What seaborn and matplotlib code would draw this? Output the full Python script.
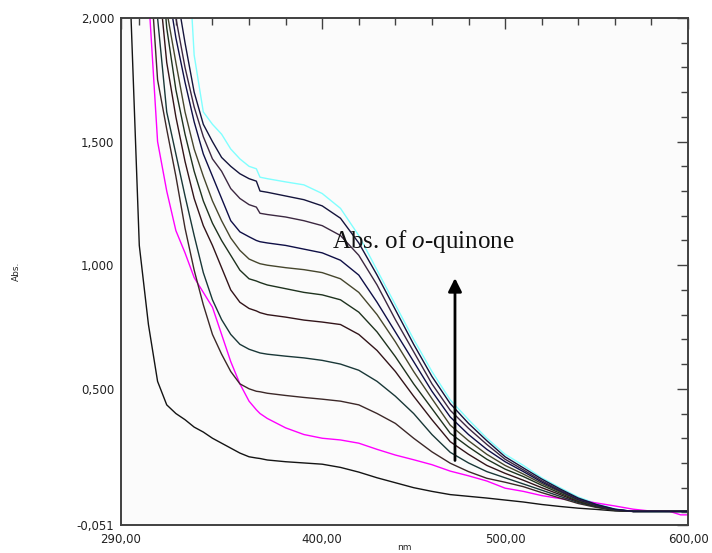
import numpy as np
import pandas as pd
import matplotlib
matplotlib.use("Agg")
import matplotlib.pyplot as plt
import seaborn as sns

# ---------------- data ----------------
wavelength = [295, 300, 305, 310, 315, 320, 325, 330, 335, 340, 345, 350, 355, 360, 364, 366,
              370, 380, 390, 400, 410, 420, 430, 440, 450, 460, 470, 480, 490, 500, 510, 520,
              530, 540, 550, 560, 570, 580, 590, 596, 600]

abs_t0 = [2.10, 1.08, 0.76, 0.53, 0.435, 0.40, 0.375, 0.345, 0.325, 0.30, 0.28, 0.26, 0.24, 0.225,
          0.22, 0.218, 0.212, 0.205, 0.20, 0.195, 0.182, 0.163, 0.14, 0.12, 0.10, 0.085, 0.072,
          0.065, 0.058, 0.05, 0.042, 0.032, 0.024, 0.017, 0.012, 0.006, 0.004, 0.004, 0.004,
          0.004, 0.004]
abs_t1 = [4.0, 3.0, 2.10, 1.50, 1.30, 1.14, 1.05, 0.95, 0.89, 0.83, 0.72, 0.61, 0.52, 0.45, 0.415,
          0.40, 0.38, 0.342, 0.315, 0.30, 0.293, 0.28, 0.255, 0.232, 0.213, 0.193, 0.167, 0.148,
          0.127, 0.098, 0.085, 0.068, 0.056, 0.05, 0.038, 0.026, 0.013, 0.005, 0.004, -0.01, -0.01]
abs_t2 = [4.6, 3.3, 2.30, 1.75, 1.55, 1.36, 1.15, 0.98, 0.84, 0.72, 0.64, 0.57, 0.52, 0.50, 0.49,
          0.488, 0.482, 0.473, 0.465, 0.458, 0.45, 0.435, 0.40, 0.36, 0.30, 0.245, 0.199, 0.165,
          0.138, 0.122, 0.104, 0.08, 0.058, 0.036, 0.02, 0.008, 0.004, 0.004, 0.004, 0.004, 0.004]
abs_t3 = [4.8, 3.6, 2.6, 2.00, 1.62, 1.45, 1.28, 1.12, 0.97, 0.86, 0.78, 0.72, 0.68, 0.66, 0.65,
          0.645, 0.64, 0.632, 0.625, 0.615, 0.60, 0.575, 0.53, 0.47, 0.40, 0.315, 0.243, 0.20,
          0.165, 0.14, 0.115, 0.09, 0.065, 0.04, 0.022, 0.008, 0.004, 0.004, 0.004, 0.004, 0.004]
abs_t4 = [5.0, 3.9, 2.9, 2.20, 1.82, 1.60, 1.42, 1.27, 1.16, 1.08, 0.99, 0.90, 0.85, 0.825, 0.815,
          0.808, 0.80, 0.79, 0.778, 0.77, 0.76, 0.72, 0.655, 0.57, 0.47, 0.375, 0.286, 0.235,
          0.19, 0.158, 0.13, 0.10, 0.072, 0.044, 0.024, 0.009, 0.004, 0.004, 0.004, 0.004, 0.004]
abs_t5 = [5.0, 4.1, 3.2, 2.40, 1.96, 1.71, 1.53, 1.38, 1.26, 1.17, 1.10, 1.04, 0.98, 0.945, 0.936,
          0.93, 0.92, 0.905, 0.89, 0.88, 0.86, 0.81, 0.73, 0.63, 0.52, 0.42, 0.32, 0.265, 0.215,
          0.175, 0.145, 0.11, 0.078, 0.047, 0.025, 0.01, 0.004, 0.004, 0.004, 0.004, 0.004]
abs_t6 = [5.2, 4.3, 3.4, 2.60, 2.03, 1.82, 1.62, 1.47, 1.36, 1.26, 1.18, 1.11, 1.06, 1.025, 1.012,
          1.006, 1.0, 0.99, 0.982, 0.97, 0.945, 0.89, 0.80, 0.69, 0.57, 0.46, 0.353, 0.29, 0.235,
          0.19, 0.155, 0.117, 0.083, 0.05, 0.027, 0.01, 0.004, 0.004, 0.004, 0.004, 0.004]
abs_t7 = [5.3, 4.5, 3.6, 2.80, 2.15, 1.92, 1.74, 1.58, 1.45, 1.36, 1.27, 1.18, 1.135, 1.115, 1.10,
          1.095, 1.09, 1.08, 1.065, 1.05, 1.02, 0.96, 0.85, 0.73, 0.61, 0.49, 0.386, 0.315, 0.255,
          0.205, 0.165, 0.123, 0.087, 0.052, 0.028, 0.011, 0.004, 0.004, 0.004, 0.004, 0.004]
abs_t8 = [5.4, 4.7, 3.9, 3.00, 2.40, 2.00, 1.80, 1.64, 1.52, 1.43, 1.38, 1.31, 1.27, 1.245, 1.235,
          1.21, 1.205, 1.195, 1.18, 1.16, 1.12, 1.04, 0.92, 0.78, 0.65, 0.52, 0.413, 0.34, 0.275,
          0.215, 0.172, 0.128, 0.09, 0.055, 0.03, 0.012, 0.004, 0.004, 0.004, 0.004, 0.004]
abs_t9 = [5.5, 5.0, 4.2, 3.20, 2.60, 2.12, 1.90, 1.70, 1.57, 1.50, 1.436, 1.40, 1.37, 1.35, 1.34,
          1.30, 1.295, 1.28, 1.265, 1.24, 1.19, 1.09, 0.96, 0.82, 0.68, 0.55, 0.44, 0.36, 0.29,
          0.225, 0.18, 0.135, 0.095, 0.058, 0.032, 0.013, 0.004, 0.004, 0.004, 0.004, 0.004]
abs_t10 = [6.0, 5.5, 5.0, 4.5, 4.0, 3.0, 2.5, 1.85, 1.62, 1.57, 1.53, 1.47, 1.43, 1.40, 1.39,
           1.356, 1.35, 1.337, 1.325, 1.29, 1.23, 1.12, 0.98, 0.84, 0.70, 0.57, 0.455, 0.375,
           0.30, 0.235, 0.19, 0.14, 0.10, 0.062, 0.035, 0.014, 0.004, 0.003, 0.003, 0.003, 0.003]

series = {
    "t10": abs_t10, "t0": abs_t0, "t1": abs_t1, "t2": abs_t2, "t3": abs_t3, "t4": abs_t4,
    "t5": abs_t5, "t6": abs_t6, "t7": abs_t7, "t8": abs_t8, "t9": abs_t9,
}
colors = {
    "t10": "#80ffff", "t0": "#141414", "t1": "#ff00ff", "t2": "#3c2828", "t3": "#193737",
    "t4": "#321419", "t5": "#1e321e", "t6": "#46462d", "t7": "#0f0f46", "t8": "#3c2841",
    "t9": "#14143c",
}

x_ticks = [290, 400, 500, 600]
x_ticklabels = ["290,00", "400,00", "500,00", "600,00"]
y_ticks = [-0.051, 0.5, 1.0, 1.5, 2.0]
y_ticklabels = ["-0,051", "0,500", "1,000", "1,500", "2,000"]

# ---------------- plot ----------------
sns.set_style("white")
plt.rcParams["font.family"] = ["DejaVu Sans"]
plt.rcParams["mathtext.fontset"] = "custom"
plt.rcParams["mathtext.rm"] = "Liberation Serif"
plt.rcParams["mathtext.it"] = "Liberation Serif:italic"

rows = []
for name, vals in series.items():
    for w, v in zip(wavelength, vals):
        rows.append((name, w, v))
df = pd.DataFrame(rows, columns=["curve", "nm", "Abs."])

fig = plt.figure(figsize=(7.12, 5.53), dpi=100)
ax = fig.add_axes([121 / 712, 1 - 525 / 553, (688 - 121) / 712, (525 - 18) / 553])
ax.set_facecolor("#fbfbfb")

sns.lineplot(data=df, x="nm", y="Abs.", hue="curve", hue_order=list(series.keys()),
             palette=colors, estimator=None, sort=False, legend=False, linewidth=1.0, ax=ax)

ax.set_xlim(290, 600)
ax.set_ylim(-0.051, 2.0)

ax.set_xticks(x_ticks)
ax.set_xticklabels(x_ticklabels)
ax.set_xticks([v for v in range(300, 600, 20) if v not in (400, 500)], minor=True)
ax.set_yticks(y_ticks)
ax.set_yticklabels(y_ticklabels)
ax.set_yticks([round(v * 0.1, 1) for v in range(0, 20) if v not in (5, 10, 15)], minor=True)

ax.tick_params(which="both", direction="in", top=True, right=True, colors="#404040",
               labelcolor="#222222", labelsize=8.5, width=1.0)
ax.tick_params(which="major", length=8)
ax.tick_params(which="minor", length=5)
ax.tick_params(axis="x", pad=6)
ax.tick_params(axis="y", pad=5)
for s in ax.spines.values():
    s.set_color("#404040")
    s.set_linewidth(1.4)

ax.set_xlabel("nm", fontsize=6.5, va="bottom")
ax.xaxis.set_label_coords(0.5, -(552 - 525) / (525 - 18))
ax.set_ylabel("Abs.", fontsize=6.5, labelpad=40)

ax.annotate("", xy=(472.6, 0.948), xytext=(472.6, 0.21),
            arrowprops=dict(arrowstyle="-|>", lw=2, color="black", mutation_scale=20,
                            shrinkA=0, shrinkB=0))
ax.text(455.5, 1.094, "Abs. of $\\mathit{o}$-quinone", fontsize=18, ha="center", va="center",
        family="Liberation Serif", color="#111111")

fig.savefig("out.png", dpi=100, facecolor="white")
